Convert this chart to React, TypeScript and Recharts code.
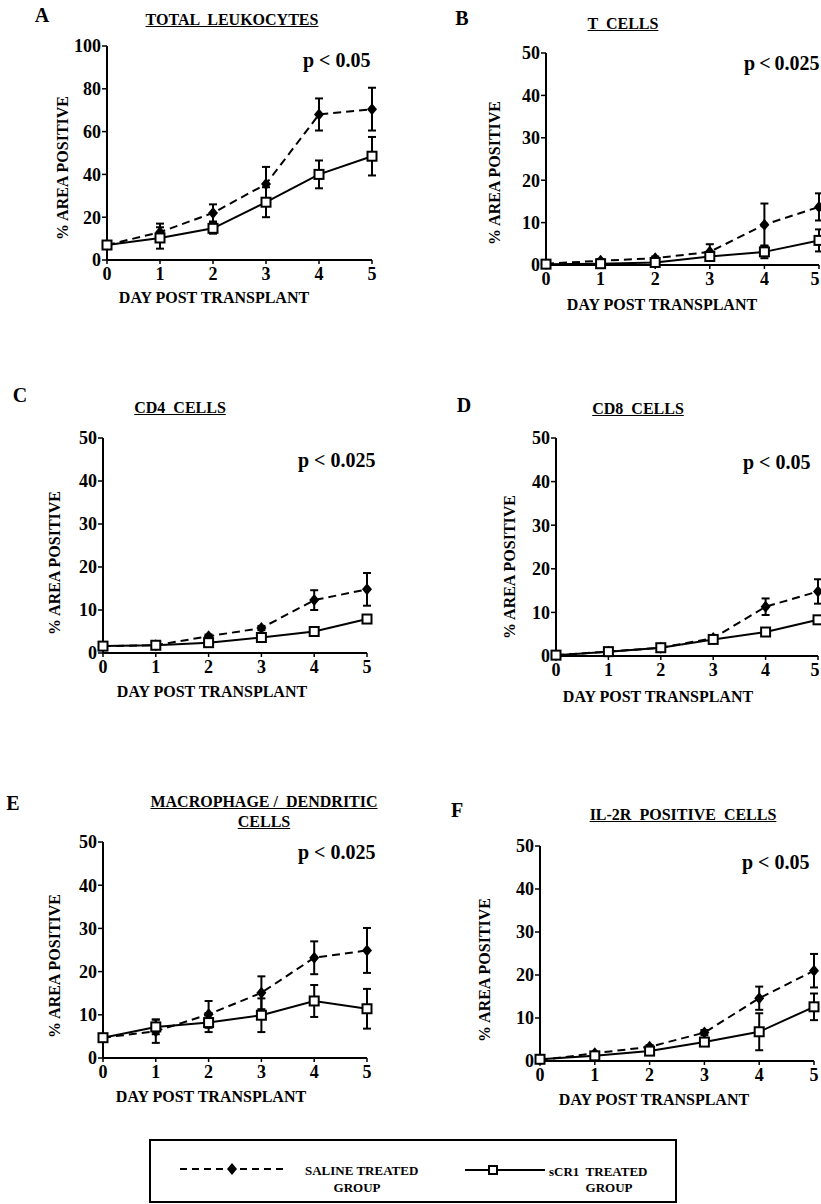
import { ErrorBar, Line, LineChart, XAxis, YAxis } from "recharts";

const FONT = '"Liberation Serif", "Times New Roman", serif';
const PAGE_W = 821;

const DAYS = [0, 1, 2, 3, 4, 5];

// A: total leukocytes
const LEUKO_SALINE = [7, 13, 22, 35.5, 68, 70.5];
const LEUKO_SALINE_ERR = [1, 4, 4, 8, 7.5, 10];
const LEUKO_SCR1 = [7, 10.3, 14.8, 27, 40, 48.5];
const LEUKO_SCR1_ERR = [1, 5, 2.5, 7, 6.5, 9];

// B: T cells
const TCELL_SALINE = [0.3, 1, 1.6, 3.1, 9.5, 13.7];
const TCELL_SALINE_ERR = [0.3, 0.4, 0.4, 1.8, 5, 3.2];
const TCELL_SCR1 = [0.2, 0.3, 0.6, 2, 3.1, 5.8];
const TCELL_SCR1_ERR = [0.2, 0.2, 0.3, 0.5, 1.5, 2.6];

// C: CD4 cells
const CD4_SALINE = [1.6, 1.8, 3.9, 5.8, 12.3, 14.8];
const CD4_SALINE_ERR = [0.2, 0.2, 0.4, 0.5, 2.3, 3.8];
const CD4_SCR1 = [1.6, 1.8, 2.4, 3.6, 5.0, 7.9];
const CD4_SCR1_ERR = [0.2, 0.2, 0.3, 0.4, 0.5, 0.6];

// D: CD8 cells
const CD8_SALINE = [0.2, 1, 1.9, 4.1, 11.3, 14.8];
const CD8_SALINE_ERR = [0.2, 0.2, 0.3, 0.4, 1.9, 2.8];
const CD8_SCR1 = [0.2, 1, 1.9, 3.8, 5.5, 8.3];
const CD8_SCR1_ERR = [0.2, 0.2, 0.3, 0.4, 0.5, 0.6];

// E: macrophage / dendritic cells
const MAC_SALINE = [4.7, 6.2, 10.1, 15.1, 23.2, 24.9];
const MAC_SALINE_ERR = [0.5, 2.7, 3.1, 3.8, 3.8, 5.2];
const MAC_SCR1 = [4.7, 7.2, 8.2, 9.9, 13.2, 11.4];
const MAC_SCR1_ERR = [0.5, 1.7, 2.2, 3.9, 3.7, 4.6];

// F: IL-2R positive cells
const IL2R_SALINE = [0.2, 1.8, 3.3, 6.6, 14.6, 21];
const IL2R_SALINE_ERR = [0.2, 0.3, 0.4, 0.6, 2.7, 3.9];
const IL2R_SCR1 = [0.4, 1.2, 2.3, 4.4, 6.8, 12.6];
const IL2R_SCR1_ERR = [0.2, 0.3, 0.3, 0.4, 4.3, 3.1];

const TICKS_100 = [0, 20, 40, 60, 80, 100];
const TICKS_50 = [0, 10, 20, 30, 40, 50];

interface PanelSpec {
  letter: string;
  letterPos: [number, number];
  title: string[];
  titlePos: [number, number];
  pText: string;
  pPos: [number, number];
  yLabelPos: [number, number];
  xTitlePos: [number, number];
  x0: number;
  x5: number;
  y0: number;
  yTop: number;
  yMax: number;
  yTicks: number[];
  saline: number[];
  salineErr: number[];
  scr1: number[];
  scr1Err: number[];
}

const PANELS: PanelSpec[] = [
  {
    letter: "A", letterPos: [42, 15],
    title: ["TOTAL  LEUKOCYTES"], titlePos: [232, 20],
    pText: "p < 0.05", pPos: [303, 60],
    yLabelPos: [63, 168], xTitlePos: [214, 298],
    x0: 107, x5: 372, y0: 260, yTop: 46, yMax: 100, yTicks: TICKS_100,
    saline: LEUKO_SALINE, salineErr: LEUKO_SALINE_ERR, scr1: LEUKO_SCR1, scr1Err: LEUKO_SCR1_ERR,
  },
  {
    letter: "B", letterPos: [462, 18],
    title: ["T  CELLS"], titlePos: [623, 24],
    pText: "p\u2009<\u20090.025", pPos: [744, 63],
    yLabelPos: [495, 173], xTitlePos: [662, 305],
    x0: 546, x5: 819, y0: 265, yTop: 53, yMax: 50, yTicks: TICKS_50,
    saline: TCELL_SALINE, salineErr: TCELL_SALINE_ERR, scr1: TCELL_SCR1, scr1Err: TCELL_SCR1_ERR,
  },
  {
    letter: "C", letterPos: [20, 395],
    title: ["CD4  CELLS"], titlePos: [180, 408],
    pText: "p < 0.025", pPos: [298, 460],
    yLabelPos: [55, 563], xTitlePos: [212, 692],
    x0: 103, x5: 367, y0: 653, yTop: 438, yMax: 50, yTicks: TICKS_50,
    saline: CD4_SALINE, salineErr: CD4_SALINE_ERR, scr1: CD4_SCR1, scr1Err: CD4_SCR1_ERR,
  },
  {
    letter: "D", letterPos: [464, 405],
    title: ["CD8  CELLS"], titlePos: [638, 409],
    pText: "p < 0.05", pPos: [743, 462],
    yLabelPos: [510, 567], xTitlePos: [658, 697],
    x0: 556, x5: 818, y0: 656, yTop: 438, yMax: 50, yTicks: TICKS_50,
    saline: CD8_SALINE, salineErr: CD8_SALINE_ERR, scr1: CD8_SCR1, scr1Err: CD8_SCR1_ERR,
  },
  {
    letter: "E", letterPos: [13, 803],
    title: ["MACROPHAGE /  DENDRITIC", "CELLS"], titlePos: [264, 812],
    pText: "p < 0.025", pPos: [298, 852],
    yLabelPos: [55, 966], xTitlePos: [211, 1097],
    x0: 103, x5: 367, y0: 1058, yTop: 842, yMax: 50, yTicks: TICKS_50,
    saline: MAC_SALINE, salineErr: MAC_SALINE_ERR, scr1: MAC_SCR1, scr1Err: MAC_SCR1_ERR,
  },
  {
    letter: "F", letterPos: [457, 810],
    title: ["IL-2R  POSITIVE  CELLS"], titlePos: [683, 815],
    pText: "p < 0.05", pPos: [742, 862],
    yLabelPos: [485, 970], xTitlePos: [654, 1100],
    x0: 540, x5: 814, y0: 1061, yTop: 846, yMax: 50, yTicks: TICKS_50,
    saline: IL2R_SALINE, salineErr: IL2R_SALINE_ERR, scr1: IL2R_SCR1, scr1Err: IL2R_SCR1_ERR,
  },
];

const PAD_L = 50;
const PAD_T = 15;
const PAD_R = 20;
const PAD_B = 32;

const tickStyle = { fill: "#000", fontSize: 18, fontWeight: 700, fontFamily: FONT };

function Diamond(props: any) {
  const { cx, cy, index } = props;
  if (cx == null || cy == null) return <g key={`d-${index}`} />;
  return (
    <path
      key={`d-${index}`}
      d={`M${cx},${cy - 6} L${cx + 5},${cy} L${cx},${cy + 6} L${cx - 5},${cy} Z`}
      fill="#000"
    />
  );
}

function Square(props: any) {
  const { cx, cy, index } = props;
  if (cx == null || cy == null) return <g key={`s-${index}`} />;
  return (
    <rect
      key={`s-${index}`}
      x={cx - 4.5}
      y={cy - 4.5}
      width={9}
      height={9}
      fill="#fff"
      stroke="#000"
      strokeWidth={2}
    />
  );
}

// x tick that stays inside the page (panels B and D reach the right edge)
function DayTick(props: any) {
  const { x, y, payload, pageLeft } = props;
  const maxX = PAGE_W - pageLeft - 6;
  const tx = Math.min(x, maxX);
  return (
    <text x={tx} y={y} dy="0.71em" textAnchor="middle" {...tickStyle}>
      {payload.value}
    </text>
  );
}

function Txt({
  x,
  y,
  size,
  children,
  underline,
  align = "center",
  rotate,
}: {
  x: number;
  y: number;
  size: number;
  children: React.ReactNode;
  underline?: boolean;
  align?: "center" | "left";
  rotate?: boolean;
}) {
  const tx = align === "center" ? "-50%" : "0";
  return (
    <div
      style={{
        position: "absolute",
        left: x,
        top: y,
        transform: `translate(${tx}, -50%)${rotate ? " rotate(-90deg)" : ""}`,
        fontFamily: FONT,
        fontWeight: 700,
        fontSize: size,
        lineHeight: 1,
        whiteSpace: "pre",
        textDecoration: underline ? "underline" : "none",
        textAlign: "center",
        color: "#000",
      }}
    >
      {children}
    </div>
  );
}

function Panel({ spec }: { spec: PanelSpec }) {
  const rows = DAYS.map((day, i) => ({
    day,
    saline: spec.saline[i],
    salineErr: spec.salineErr[i],
    scr1: spec.scr1[i],
    scr1Err: spec.scr1Err[i],
  }));
  const pageLeft = spec.x0 - PAD_L;
  const width = spec.x5 - spec.x0 + PAD_L + PAD_R;
  const height = spec.y0 - spec.yTop + PAD_T + PAD_B;

  return (
    <>
      <Txt x={spec.letterPos[0]} y={spec.letterPos[1]} size={20}>
        {spec.letter}
      </Txt>
      {spec.title.map((line, i) => (
        <Txt key={line} x={spec.titlePos[0]} y={spec.titlePos[1] + (i - (spec.title.length - 1) / 2) * 20} size={16} underline>
          {line}
        </Txt>
      ))}
      <Txt x={spec.pPos[0]} y={spec.pPos[1]} size={20} align="left">
        {spec.pText}
      </Txt>
      <Txt x={spec.yLabelPos[0]} y={spec.yLabelPos[1]} size={16} rotate>
        % AREA POSITIVE
      </Txt>
      <Txt x={spec.xTitlePos[0]} y={spec.xTitlePos[1]} size={16}>
        DAY POST TRANSPLANT
      </Txt>
      <div style={{ position: "absolute", left: pageLeft, top: spec.yTop - PAD_T }}>
        <LineChart
          width={width}
          height={height}
          data={rows}
          margin={{ top: PAD_T, right: PAD_R, left: 0, bottom: 0 }}
        >
          <XAxis
            type="number"
            dataKey="day"
            domain={[0, 5]}
            ticks={DAYS}
            interval={0}
            height={PAD_B}
            axisLine={{ stroke: "#000", strokeWidth: 2 }}
            tickLine={{ stroke: "#000", strokeWidth: 1.5 }}
            tickSize={4}
            tickMargin={3}
            tick={<DayTick pageLeft={pageLeft} />}
          />
          <YAxis
            type="number"
            domain={[0, spec.yMax]}
            ticks={spec.yTicks}
            interval={0}
            width={PAD_L}
            axisLine={{ stroke: "#000", strokeWidth: 2 }}
            tickLine={{ stroke: "#000", strokeWidth: 1.5 }}
            tickSize={5}
            tickMargin={1}
            tick={tickStyle}
          />
          <Line
            type="linear"
            dataKey="saline"
            stroke="#000"
            strokeWidth={2}
            strokeDasharray="8 5"
            dot={Diamond}
            activeDot={false}
            isAnimationActive={false}
          >
            <ErrorBar dataKey="salineErr" width={4} stroke="#000" strokeWidth={2} direction="y" />
          </Line>
          <Line
            type="linear"
            dataKey="scr1"
            stroke="#000"
            strokeWidth={2}
            dot={Square}
            activeDot={false}
            isAnimationActive={false}
          >
            <ErrorBar dataKey="scr1Err" width={4} stroke="#000" strokeWidth={2} direction="y" />
          </Line>
        </LineChart>
      </div>
    </>
  );
}

function LegendBox() {
  return (
    <div
      style={{
        position: "absolute",
        left: 149,
        top: 1139,
        width: 524,
        height: 60,
        border: "2px solid #000",
      }}
    >
      <svg width={524} height={60} style={{ position: "absolute", left: 0, top: 0 }}>
        <line x1={29} y1={28} x2={134} y2={28} stroke="#000" strokeWidth={2} strokeDasharray="7 5" />
        <path d="M81,22 L86,28 L81,34 L76,28 Z" fill="#000" />
        <line x1={314} y1={29} x2={394} y2={29} stroke="#000" strokeWidth={2} />
        <rect x={338} y={25} width={8} height={8} fill="#fff" stroke="#000" strokeWidth={2} />
      </svg>
      <Txt x={154} y={29} size={13} align="left">SALINE TREATED</Txt>
      <Txt x={206} y={46} size={13}>GROUP</Txt>
      <Txt x={398} y={30} size={13} align="left">sCR1  TREATED</Txt>
      <Txt x={458} y={46} size={13}>GROUP</Txt>
    </div>
  );
}

export default function App() {
  return (
    <div
      style={{
        position: "absolute",
        left: 0,
        top: 0,
        width: PAGE_W,
        height: 1204,
        background: "#fff",
        overflow: "hidden",
      }}
    >
      {PANELS.map((spec) => (
        <Panel key={spec.letter} spec={spec} />
      ))}
      <LegendBox />
    </div>
  );
}
